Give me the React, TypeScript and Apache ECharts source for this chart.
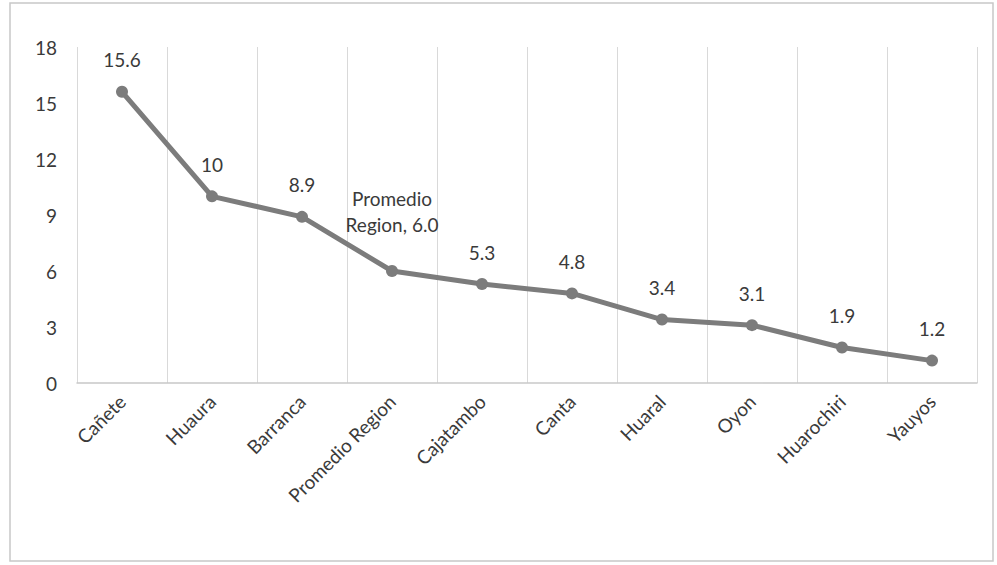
import React, { useEffect, useRef } from "react";
import * as echarts from "echarts";

const categories = [
  "Cañete",
  "Huaura",
  "Barranca",
  "Promedio Region",
  "Cajatambo",
  "Canta",
  "Huaral",
  "Oyon",
  "Huarochiri",
  "Yauyos",
];
const values = [15.6, 10, 8.9, 6.0, 5.3, 4.8, 3.4, 3.1, 1.9, 1.2];
const labelTexts = [
  "15.6",
  "10",
  "8.9",
  "Promedio\nRegion, 6.0",
  "5.3",
  "4.8",
  "3.4",
  "3.1",
  "1.9",
  "1.2",
];
const yTicks = { min: 0, max: 18, interval: 3 };

export default function App() {
  const ref = useRef<HTMLDivElement>(null);
  useEffect(() => {
    if (!ref.current) return;
    const chart = echarts.init(ref.current, null, { renderer: "svg" });
    const font = "Lato, 'Open Sans', sans-serif";
    const seriesData = values.map((v, i) => ({
      value: v,
      label: { distance: labelTexts[i].includes("\n") ? 28 : 13 },
    }));
    chart.setOption({
      animation: false,
      backgroundColor: "#ffffff",
      textStyle: { fontFamily: font },
      graphic: [
        {
          type: "rect",
          shape: { x: 10, y: 3, width: 983, height: 558 },
          style: { fill: "none", stroke: "#c8c8c8", lineWidth: 1.5 },
          silent: true,
        },
      ],
      grid: { left: 77, right: 20, top: 47, bottom: 182, containLabel: false },
      xAxis: {
        type: "category",
        data: categories,
        boundaryGap: true,
        axisTick: { show: false },
        axisLine: { show: true, lineStyle: { color: "#c8c8c8", width: 1.5 } },
        splitLine: { show: true, lineStyle: { color: "#d9d9d9", width: 1 } },
        axisLabel: {
          rotate: 45,
          interval: 0,
          color: "#3a3a3a",
          fontSize: 19,
          fontFamily: font,
          margin: 15,
        },
      },
      yAxis: {
        type: "value",
        min: yTicks.min,
        max: yTicks.max,
        interval: yTicks.interval,
        axisLine: { show: false },
        axisTick: { show: false },
        splitLine: { show: false },
        axisLabel: { color: "#3a3a3a", fontSize: 19, fontFamily: font, margin: 20 },
      },
      series: [
        {
          type: "line",
          data: seriesData,
          symbol: "circle",
          symbolSize: 12,
          itemStyle: { color: "#7c7c7c" },
          lineStyle: { color: "#7c7c7c", width: 5 },
          label: {
            show: true,
            position: "top",
            distance: 13,
            color: "#3a3a3a",
            fontSize: 19,
            fontFamily: font,
            lineHeight: 26,
            align: "center",
            formatter: (p: any) => labelTexts[p.dataIndex],
          },
        },
      ],
    });
    return () => chart.dispose();
  }, []);
  return (
    <div
      ref={ref}
      style={{ position: "fixed", left: 0, top: 0, width: 997, height: 565 }}
    />
  );
}
